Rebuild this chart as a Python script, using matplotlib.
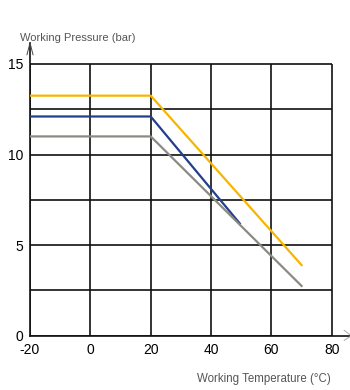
import matplotlib.pyplot as plt
import numpy as np

plt.rcParams['font.family'] = ['Liberation Sans', 'DejaVu Sans']
plt.rcParams['axes.unicode_minus'] = False

# temperature (C) / pressure (bar) for each curve
yellow_t = [-20, 20, 70]
yellow_p = [13.25, 13.25, 3.9]
blue_t = [-20, 20, 49.5]
blue_p = [12.1, 12.1, 6.2]
grey_t = [-20, 20, 70]
grey_p = [11.0, 11.0, 2.75]

x_ticks = [-20, 0, 20, 40, 60, 80]
y_ticks = [0, 5, 10, 15]

X_MAX = 86
Y_MAX = 16.16

fig = plt.figure(figsize=(3.5, 3.9), dpi=100)
ax = fig.add_axes([0.0857, 0.139, 0.914, 0.751])
ax.set_xlim(-20, X_MAX)
ax.set_ylim(0, Y_MAX)

# grid confined to the data area
for y in np.arange(0, 15.1, 2.5):
    ax.hlines(y, -20, 80, color='#111111', lw=1.2, zorder=1)
for x in x_ticks:
    ax.vlines(x, 0, 15, color='#111111', lw=1.2, zorder=1)

ax.plot(blue_t, blue_p, color='#233f8a', lw=1.6, zorder=3)
ax.plot(grey_t, grey_p, color='#8a8a84', lw=1.6, zorder=4)
ax.plot(yellow_t, yellow_p, color='#f7b500', lw=1.6, zorder=5)

for s in ['top', 'right']:
    ax.spines[s].set_visible(False)
ax.spines['left'].set_color('#111111')
ax.spines['bottom'].set_color('#111111')
ax.spines['left'].set_linewidth(1.2)
ax.spines['bottom'].set_linewidth(1.2)

# open arrow heads at the axis ends
ax.plot([-21, -20, -19], [Y_MAX - 0.65, Y_MAX, Y_MAX - 0.65], color='#444444',
        lw=0.7, clip_on=False, zorder=6)
ax.plot([X_MAX - 1.9, X_MAX + 0.5, X_MAX - 1.9], [0.3, 0.0, -0.25], color='#aaaaaa',
        lw=0.7, clip_on=False, zorder=6)

ax.set_xticks(x_ticks)
ax.set_yticks(y_ticks)
ax.tick_params(length=0, labelsize=10)
ax.tick_params(axis='x', pad=5)
ax.tick_params(axis='y', pad=5)

fig.text(0.057, 0.895, 'Working Pressure (bar)', fontsize=8, color='#555555')
fig.text(0.946, 0.02, 'Working Temperature (\u00b0C)', fontsize=8.3,
         color='#555555', ha='right')

fig.savefig('out.png', dpi=100)
